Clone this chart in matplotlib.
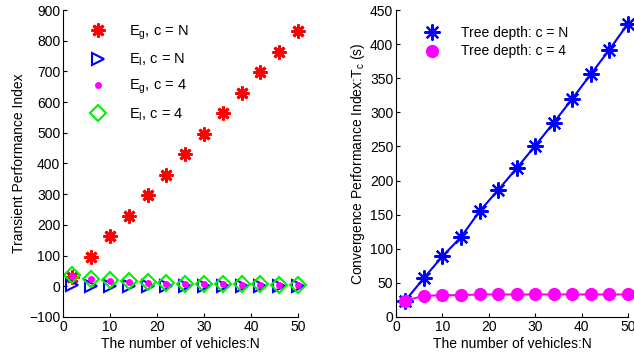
import matplotlib
matplotlib.use("Agg")
import matplotlib.pyplot as plt
from matplotlib.lines import Line2D

plt.rcParams['font.family'] = ['Liberation Sans', 'DejaVu Sans']
plt.rcParams['mathtext.fontset'] = 'custom'
plt.rcParams['mathtext.rm'] = 'Liberation Sans'
plt.rcParams['mathtext.it'] = 'Liberation Sans'

N = [2, 6, 10, 14, 18, 22, 26, 30, 34, 38, 42, 46, 50]
eg_cN = [30, 97, 163, 230, 297, 363, 430, 497, 563, 630, 697, 763, 830]
el_cN = [3, 2, 1, 0, 0, 0, 0, 0, 0, 0, 0, 0, 0]
eg_c4 = [35, 23, 17, 13, 10, 9, 7, 6, 6, 5, 5, 4, 4]
el_c4 = [37, 25, 20, 16, 13, 11, 9, 8, 7, 7, 6, 5, 4]
tc_cN = [24, 57, 89, 117, 155, 186, 218, 251, 285, 320, 356, 392, 430]
tc_c4 = [24, 31, 32, 32, 33, 33, 33, 33, 33, 33, 33, 33, 33]

AST = (8, 2, 0)

fig = plt.figure(figsize=(6.34, 3.6), dpi=100)
ax1 = fig.add_axes([63/634, 1-317/360, 235/634, 307/360])
ax2 = fig.add_axes([396/634, 1-317/360, 232/634, 307/360])

s1 = dict(ls='none', marker=AST, color='red', ms=10, mew=2.0)
s2 = dict(ls='none', marker='>', mfc='none', mec='blue', ms=9, mew=1.5)
s3 = dict(ls='none', marker='.', color='magenta', ms=8)
s4 = dict(ls='none', marker='D', mfc='none', mec='#00ee00', ms=8, mew=1.5)
ax1.plot(N, eg_cN, **s1)
ax1.plot(N, el_cN, **s2)
ax1.plot(N, eg_c4, **s3)
ax1.plot(N, el_c4, **s4)
ax1.set_xlim(0, 50)
ax1.set_ylim(-100, 900)
ax1.set_xticks(range(0, 51, 10))
ax1.set_yticks(range(-100, 901, 100))
ax1.set_xlabel('The number of vehicles:N', fontsize=10, labelpad=2)
ax1.set_ylabel('Transient Performance Index', fontsize=10, labelpad=2)
h1 = [Line2D([], [], **s1), Line2D([], [], **s2), Line2D([], [], **s3), Line2D([], [], **s4)]
l1 = [r'E$_{g}$, c = N', r'E$_{l}$, c = N', r'E$_{g}$, c = 4', r'E$_{l}$, c = 4']
ax1.legend(h1, l1, loc='upper left', bbox_to_anchor=(0.095, 0.975), frameon=False, fontsize=10.5,
           handlelength=1.0, handletextpad=1.6, labelspacing=0.68, borderaxespad=0)

t1 = dict(marker=AST, color='blue', ms=11.5, mew=1.6)
t2 = dict(marker='o', color='magenta', ms=8.5)
ax2.plot(N, tc_cN, ls='-', lw=1.5, **t1)
ax2.plot(N, tc_c4, ls='-', lw=1.5, **t2)
ax2.set_xlim(0, 50)
ax2.set_ylim(0, 450)
ax2.set_xticks(range(0, 51, 10))
ax2.set_yticks(range(0, 451, 50))
ax2.set_xlabel('The number of vehicles:N', fontsize=10, labelpad=2)
ax2.set_ylabel(r'Convergence Performance Index:T$_{c}$ (s)', fontsize=10, labelpad=2)
h2 = [Line2D([], [], ls='none', **t1), Line2D([], [], ls='none', **t2)]
ax2.legend(h2, ['Tree depth: c = N', 'Tree depth: c = 4'], loc='upper left',
           bbox_to_anchor=(0.1, 0.965), frameon=False, fontsize=10,
           handlelength=1.0, handletextpad=1.6, labelspacing=0.3, borderaxespad=0)

for ax in (ax1, ax2):
    ax.spines['top'].set_visible(False)
    ax.spines['right'].set_visible(False)
    ax.tick_params(direction='in', length=3, labelsize=10, pad=2)
    for ln in ax.lines:
        ln.set_clip_on(False)

fig.savefig('out.png', dpi=100)
